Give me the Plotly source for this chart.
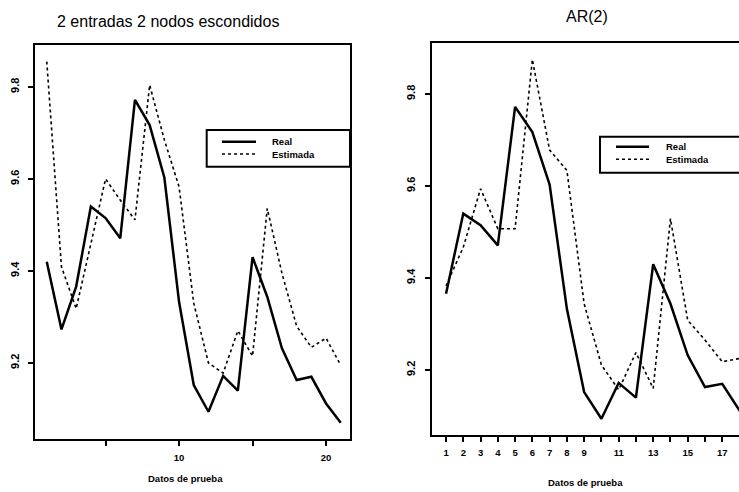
import plotly.graph_objects as go

# ---- data ----
x_left = list(range(1, 22))
real_left = [9.420, 9.273, 9.366, 9.540, 9.515, 9.471, 9.772, 9.717, 9.603, 9.333,
             9.152, 9.094, 9.172, 9.140, 9.430, 9.344, 9.232, 9.163, 9.170, 9.112, 9.070]
est_left = [9.855, 9.409, 9.318, 9.462, 9.600, 9.554, 9.511, 9.804, 9.685, 9.583,
            9.330, 9.200, 9.178, 9.270, 9.215, 9.536, 9.395, 9.280, 9.234, 9.254, 9.195]

x_right = list(range(1, 20))
real_right = [9.366, 9.540, 9.515, 9.471, 9.772, 9.717, 9.603, 9.333, 9.152, 9.094,
              9.172, 9.140, 9.430, 9.344, 9.232, 9.163, 9.170, 9.112, 9.070]
x_right_est = list(range(1, 19))
est_right = [9.383, 9.467, 9.594, 9.507, 9.507, 9.875, 9.678, 9.634, 9.344, 9.211,
             9.157, 9.238, 9.160, 9.529, 9.308, 9.265, 9.218, 9.225]

title_left = "2 entradas 2 nodos escondidos"
title_right = "AR(2)"
xlabel = "Datos de prueba"
legend_names = ["Real", "Estimada"]

left_xticks = [5, 10, 15, 20]
left_xticktext = ["", "10", "", "20"]
right_xticks = list(range(1, 19))
right_xticktext = ["1", "2", "3", "4", "5", "6", "7", "8", "9", "", "11", "", "13", "", "15", "", "17", ""]
yticks = [9.2, 9.4, 9.6, 9.8]

W, H = 739, 492
FONT = "Liberation Sans, Arial, sans-serif"


def px(x):
    return x / W


def py(y):
    return 1 - y / H


fig = go.Figure()
fig.add_trace(go.Scatter(x=x_left, y=real_left, mode="lines", name=legend_names[0],
                         line=dict(color="black", width=2.5), xaxis="x", yaxis="y"))
fig.add_trace(go.Scatter(x=x_left, y=est_left, mode="lines", name=legend_names[1],
                         line=dict(color="black", width=1.6, dash="dot"), xaxis="x", yaxis="y"))
fig.add_trace(go.Scatter(x=x_right, y=real_right, mode="lines", name=legend_names[0],
                         line=dict(color="black", width=2.5), xaxis="x2", yaxis="y2"))
fig.add_trace(go.Scatter(x=x_right_est, y=est_right, mode="lines", name=legend_names[1],
                         line=dict(color="black", width=1.6, dash="dot"), xaxis="x2", yaxis="y2"))

xtickfont = dict(family=FONT, size=9.5, color="black", weight="bold")
ytickfont = dict(family=FONT, size=11, color="black", weight="bold")
axis_common = dict(showgrid=False, zeroline=False, showline=True, linecolor="black",
                   linewidth=2, ticks="outside", ticklen=5, tickwidth=1.5, tickcolor="black")

fig.update_layout(
    width=W, height=H,
    margin=dict(l=0, r=0, t=0, b=0),
    paper_bgcolor="white", plot_bgcolor="white",
    showlegend=False,
    xaxis=dict(domain=[px(35), px(350)], range=[0.2, 21.63], anchor="y", mirror=True,
               tickvals=left_xticks, ticktext=left_xticktext, tickfont=xtickfont,
               ticklabelstandoff=4, **axis_common),
    yaxis=dict(domain=[py(439), py(45)], range=[9.0348, 9.891], anchor="x", mirror=True,
               tickvals=yticks, tickangle=-90, tickfont=ytickfont, ticklabelstandoff=5,
               **axis_common),
    xaxis2=dict(domain=[px(431.7), 1], range=[0.17, 17.97], anchor="y2", mirror=True,
                tickvals=right_xticks, ticktext=right_xticktext, tickfont=xtickfont,
                ticklabelstandoff=3, **axis_common),
    yaxis2=dict(domain=[py(435), py(42.7)], range=[9.0587, 9.9115], anchor="x2", mirror=False,
                tickvals=yticks, tickangle=-90, tickfont=ytickfont, ticklabelstandoff=5,
                **axis_common),
)

annotations = [
    dict(text=title_left, x=px(168), y=py(22), font=dict(family=FONT, size=16, color="black")),
    dict(text=title_right, x=px(587), y=py(17), font=dict(family=FONT, size=16, color="black")),
    dict(text=xlabel, x=px(185), y=py(478), font=dict(family=FONT, size=9.5, color="black", weight="bold")),
    dict(text=xlabel, x=px(585), y=py(482), font=dict(family=FONT, size=9.5, color="black", weight="bold")),
]
for a in annotations:
    a.update(xref="paper", yref="paper", showarrow=False, xanchor="center", yanchor="middle")
    fig.add_annotation(**a)

# legends (drawn as boxes with samples)
legends = [
    dict(box=(206.7, 130, 350, 166.7), line=(222, 256), text_x=270, rows=(141.7, 154)),
    dict(box=(600, 136.7, 780, 172.7), line=(616, 649), text_x=664, rows=(146.7, 159.3)),
]
for lg in legends:
    x0, y0, x1, y1 = lg["box"]
    fig.add_shape(type="rect", xref="paper", yref="paper", x0=px(x0), y0=py(y1), x1=px(x1), y1=py(y0),
                  line=dict(color="black", width=2), fillcolor="white", layer="above")
    lx0, lx1 = lg["line"]
    for i, (name, dash, wdt) in enumerate(zip(legend_names, ["solid", "dot"], [2.5, 1.6])):
        yy = lg["rows"][i]
        fig.add_shape(type="line", xref="paper", yref="paper", x0=px(lx0), x1=px(lx1),
                      y0=py(yy), y1=py(yy), line=dict(color="black", width=wdt, dash=dash), layer="above")
        fig.add_annotation(text=name, xref="paper", yref="paper", x=px(lg["text_x"]), y=py(yy),
                           xanchor="left", yanchor="middle", showarrow=False,
                           font=dict(family=FONT, size=9.5, color="black", weight="bold"))

fig.write_html("out.html")
